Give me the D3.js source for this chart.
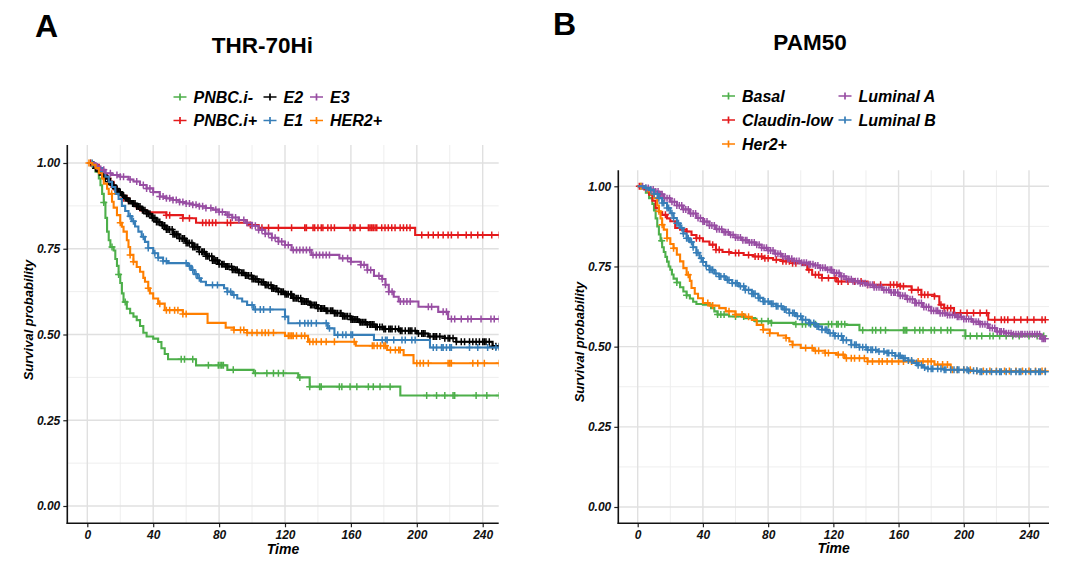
<!DOCTYPE html>
<html><head><meta charset="utf-8">
<script src="https://cdn.jsdelivr.net/npm/d3@7"></script>
<style>
body{margin:0;background:#fff}
svg{display:block}
text{font-family:"Liberation Sans",Arial,sans-serif}
</style>
</head><body>
<svg id="c" width="1079" height="573"></svg>
<script>
// ---------------- DATA ----------------
const xTicks = [0, 40, 80, 120, 160, 200, 240];
const xMinor = [20, 60, 100, 140, 180, 220];
const yTicks = [0, 0.25, 0.5, 0.75, 1];
const yMinor = [0.125, 0.375, 0.625, 0.875];
const yTickLabels = ["0.00", "0.25", "0.50", "0.75", "1.00"];

// Panel A : THR-70Hi
const A_names  = ["PNBC.i-", "PNBC.i+", "E2", "E1", "E3", "HER2+"];
const A_colors = ["#4DAF4A", "#E41A1C", "#000000", "#377EB8", "#984EA3", "#FF7F00"];

const A_pnbcMinus_t = [0,3,5,7,8,9,10,11,12,13,14,16,17,18,19,20,21,22,24,26,28,30,32,34,36,40,43,45,47,49,66,85,101,128,135,190];
const A_pnbcMinus_s = [1,0.99,0.975,0.955,0.935,0.91,0.885,0.84,0.80,0.775,0.755,0.745,0.72,0.70,0.675,0.65,0.62,0.595,0.575,0.562,0.552,0.542,0.525,0.505,0.494,0.488,0.478,0.46,0.443,0.428,0.41,0.397,0.387,0.375,0.348,0.322];
const A_pnbcMinus_c = [2,10,15,19,23,57,59,64,73.5,79.5,80.6,81.6,82.6,88.6,102,109,113,116,119,129,135,141,142,153,154.5,159.5,163.6,170.6,173.6,177.7,183.8,206,212,217,222,223,236,242.5,250];

const A_pnbcPlus_t = [0,4,7,10,12,14,16,18,20,22,25,28,30,32,36,48,58,66,98,104,199];
const A_pnbcPlus_s = [1,0.995,0.98,0.965,0.955,0.945,0.93,0.916,0.907,0.897,0.887,0.877,0.868,0.862,0.856,0.848,0.839,0.826,0.819,0.811,0.79];
const A_pnbcPlus_c = [2,16,22,24,48,50,58,62,70,72,74,76,78,85,87,97,99,106,110,116,124,132,133,137,138,140,142,143,146,148,150,159.5,161.5,162.5,165.6,170.6,171.6,172.6,173.6,174.7,175.7,178.7,180.7,182.7,184.8,186.8,189.9,191.9,193.9,195.9,203,207,210,213,216,219,221,225,230,233,237,240,245.5,250];

const A_E2_t = [0,3,5,7,9,11,13,15,17,19,21,23,25,27,30,33,36,39,42,45,48,52,56,60,64,68,72,76,80,84,88,92,96,100,104,108,112,116,120,125,130,135,140,145,150,155,160,165,170,175,180,190,200,207,217,224,246];
const A_E2_s = [1,0.995,0.985,0.975,0.965,0.955,0.945,0.935,0.925,0.915,0.905,0.897,0.889,0.882,0.873,0.862,0.852,0.84,0.828,0.818,0.806,0.792,0.78,0.767,0.755,0.741,0.728,0.716,0.705,0.698,0.689,0.68,0.672,0.662,0.653,0.644,0.634,0.625,0.617,0.606,0.596,0.586,0.576,0.569,0.562,0.553,0.544,0.536,0.529,0.522,0.516,0.511,0.503,0.494,0.489,0.479,0.466];
const A_E2_c = [4,5,6,7.5,8.5,9,10,11,12.5,13,14,15.5,16,17,18,19,20,21.5,22,23,24,25,26,27.5,28,29,30,31,32,33.5,34,35,36,37,38,39.5,40,41,42,43,44,45.5,46,47,48,49,50,51.5,52,53,54,55,56,57.5,58,59,60,61,62,63.5,64,65,66,67,68,69.5,70,71,72,73,74,75.5,76,77,78,79,80,81.5,82,83,84,85,86,87.5,88,89,90,91,92,93.5,94,95,96,97,98,99.5,100,101,102,103,104,105.5,106,107,108,109,110,111.5,112,113,114,115,116,117.5,118,119,120,121,122,123.5,124,125,126,127,128,129.5,130,131,132,133,134,135.5,136,137,138,139,140,141.5,142,143,144,145,146,147.5,148,149,150,151,152,153.5,154,155,156,157,158,159.5,160,161,162,163,164,165.5,166,167,168,169,170,171.5,172,173,174,175,176,177.5,179,180,181,183,184,185,187,189,190,191,193,195,196,197,199,201,203,204,205,208,210,211,212,214,217,219,220,222,224,227,229,232,234,236,238,240,241,242,244,246,248,250];

const A_E1_t = [0,4,6,9,11,13,15,17,19,21,23,25,27,29,31,33,35,37,40,43,46,49,61,63,65,67,69,72,83,85,88,91,94,97,101,120,122,146,150,174,208];
const A_E1_s = [1,0.995,0.985,0.975,0.96,0.945,0.93,0.91,0.895,0.875,0.86,0.845,0.83,0.815,0.80,0.785,0.77,0.752,0.737,0.724,0.714,0.708,0.70,0.688,0.676,0.664,0.654,0.644,0.635,0.625,0.615,0.605,0.596,0.586,0.573,0.552,0.533,0.518,0.499,0.484,0.462];
const A_E1_c = [3,9,26,28,34,37,41,43,46,48,60,62,64,66,68,76,79,85,87,89,100,102,105,107,111,120,129,132,134,136,139,145,147,152,155,157,160,161,179,181,182,186,191,193,197,199,210,212,215,216,218,220,221,232,237,243,248,250];

const A_E3_t = [0,5,8,11,15,20,25,28,32,36,40,44,48,52,56,60,64,68,72,76,80,84,88,92,96,100,104,108,112,116,120,124,136,153,160,166,170,174,179,181,183,186,189,201,213,219];
const A_E3_s = [1,0.99,0.98,0.97,0.965,0.96,0.952,0.946,0.936,0.926,0.915,0.902,0.897,0.892,0.886,0.882,0.878,0.874,0.869,0.864,0.857,0.849,0.841,0.834,0.826,0.817,0.805,0.794,0.782,0.771,0.761,0.746,0.732,0.722,0.712,0.703,0.688,0.671,0.662,0.645,0.625,0.61,0.596,0.581,0.566,0.545];
const A_E3_c = [6,10,14,18,20,22,26,30,34,36,38,40,44,46,48,50,52,54,56,58,60,62,64,66,68,70,72,75,78,80,82,85,86,88,90,92,95,97,100,102,104,106,108,110,112,114,116,118,120,122,125,127,129,131,133,135,137,139,141,143,145,147,155,158,160,166,168,170,172,177,179,181,183,185,190,192,194,196,207,209,216,218,221,223,227,231,233,239,245,247,250];

const A_HER2_t = [0,3,5,7,9,10,12,13,15,16,18,20,21,22,24,25,26,28,30,32,34,35,37,38,40,43,47,58,73,84,89,97,120,134,163,182,192,198];
const A_HER2_s = [1,0.995,0.985,0.97,0.955,0.94,0.925,0.91,0.887,0.87,0.848,0.826,0.814,0.80,0.775,0.755,0.732,0.712,0.697,0.683,0.665,0.654,0.635,0.62,0.605,0.59,0.571,0.56,0.534,0.52,0.513,0.505,0.496,0.479,0.467,0.455,0.44,0.416];
const A_HER2_c = [1,14.8,20,26,28,37,44,48,50,53,55,58,60,89,93,95,97,100,103,106,108,110,113,122,123,124,125,127,130,132,135,137,139,142,145,150,162,173,174,176,178,180,181,184,187,189,190,200,202,204,207,219,220,221,234,237,241,250];

// Panel B : PAM50
const B_names  = ["Basal", "Claudin-low", "Her2+", "Luminal A", "Luminal B"];
const B_colors = ["#4DAF4A", "#E41A1C", "#FF7F00", "#984EA3", "#377EB8"];

const B_basal_t = [0,3,5,7,9,10,11,12,13,14,15,16,17,18,19,20,21,22,24,26,28,30,32,34,36,40,45,47,49,56,66,72,82,96,128,136,201];
const B_basal_s = [1,0.994,0.98,0.963,0.945,0.925,0.90,0.875,0.85,0.83,0.81,0.795,0.78,0.765,0.75,0.74,0.725,0.712,0.70,0.685,0.672,0.66,0.65,0.64,0.633,0.631,0.62,0.61,0.6,0.594,0.589,0.579,0.574,0.57,0.568,0.551,0.533];
const B_basal_c = [2,14.7,24,30,49,51,53,60,65,73,76,80,82,97,101,103,106,109,117,119,122,123,125,127,138,144,146,149,152,163,164,165,170,173,175,180,182,186,190,192,201,204,208,211,216,218,222,226,230,234,240,245,249];

const B_claudin_t = [0,4,7,9,11,13,15,18,20,23,26,30,33,36,40,44,48,52,57,65,71,77,83,89,95,101,104,107,113,122,141,161,168,174,182,185,188,194,215];
const B_claudin_s = [1,0.99,0.974,0.955,0.932,0.92,0.911,0.9,0.891,0.87,0.865,0.859,0.848,0.838,0.828,0.818,0.802,0.795,0.792,0.786,0.781,0.776,0.771,0.766,0.76,0.755,0.74,0.724,0.714,0.703,0.693,0.688,0.677,0.662,0.657,0.631,0.62,0.605,0.584];
const B_claudin_c = [1,17,30,36,38,46,48,50,56,60,62,68,72,74,76,78,80,85,89,91,93,95,97,105,109,111,113,117,121,123,125,129,133,137,141,145,149,155,157,159,161,163,168,172,174,176,178,182,186,188,190,192,198,202,206,210,214,219,223,225,227,231,235,239,243,248,250];

const B_her2_t = [0,4,6,8,10,12,13,14,15,16,18,20,22,24,26,28,30,32,33,35,37,40,44,50,54,60,66,70,73,77,81,86,91,93,95,100,108,115,122,127,141,182,192,205];
const B_her2_s = [1,0.995,0.985,0.975,0.963,0.94,0.922,0.9,0.88,0.865,0.838,0.82,0.807,0.787,0.766,0.745,0.724,0.705,0.683,0.665,0.651,0.636,0.628,0.62,0.61,0.6,0.593,0.583,0.568,0.553,0.542,0.535,0.527,0.516,0.506,0.496,0.487,0.48,0.475,0.464,0.454,0.444,0.428,0.424];
const B_her2_c = [2,13,15,18,22,31,43,46,56,60,64,68,77,81,91,95,103,107,109,111,115,117,123,126,128,131,133,136,139,141,144,148,150,153,156,160,163,168,172,175,178,180,184,187,190,193,196,200,204,208,212,216,220,225,228,232,236,240,244,248,250];

const B_lumA_t = [0,4,7,10,13,16,20,24,28,32,36,40,44,48,52,56,60,64,68,72,76,80,84,88,92,96,100,104,108,112,116,120,124,128,132,136,140,145,150,155,160,165,170,175,180,185,190,195,200,205,210,215,220,225,230,247];
const B_lumA_s = [1,0.995,0.99,0.984,0.975,0.963,0.952,0.94,0.928,0.915,0.901,0.89,0.878,0.866,0.857,0.849,0.84,0.832,0.825,0.818,0.808,0.8,0.79,0.781,0.774,0.767,0.762,0.757,0.753,0.746,0.74,0.73,0.719,0.71,0.704,0.698,0.693,0.685,0.677,0.669,0.659,0.648,0.636,0.624,0.612,0.604,0.599,0.593,0.586,0.578,0.57,0.558,0.547,0.542,0.539,0.525];
const B_lumA_c = [3,5,6.5,8,9.5,11,12.5,14,15,16.5,18,19.5,21,22.5,24,25.5,27,28,29.5,31,32.5,34,35.5,37,38.5,40,41,42.5,44,45.5,47,48.5,50,51.5,53,54,55.5,57,58.5,60,61.5,63,64.5,66,67,68.5,70,71.5,73,74.5,76,77.5,79,80,81.5,83,84.5,86,87.5,89,90.5,92,93,94.5,96,97.5,99,100.5,102,103.5,105,106,107.5,109,110.5,112,113.5,115,116.5,118,119,120.5,122,123.5,125,126.5,128,129.5,131,132,133.5,135,136.5,138,139.5,141,142.5,144,145,146.5,148,149.5,151,152.5,154,155.5,157,158,159.5,161,162.5,164,165.5,167,168.5,170,171,172.5,174,175.5,177,178.5,180,181.5,183,184,185.5,187,188.5,190,191.5,193,194.5,196,197,198.5,200,201.5,203,204.5,206,207.5,209,210,211.5,213,214.5,216,217.5,219,220.5,222,223,224.5,226,227.5,229,230.5,232,233.5,235,236,237.5,239,240.5,242,243.5,245,246.5,248,249,250];

const B_lumB_t = [0,4,7,10,13,15,18,20,22,24,26,28,30,32,34,36,38,40,42,44,47,50,54,58,62,66,70,74,77,81,85,89,93,97,101,105,109,113,117,121,126,131,136,141,147,153,158,162,166,169,172,175,178,188,203,209];
const B_lumB_s = [1,0.995,0.989,0.976,0.963,0.948,0.932,0.916,0.901,0.885,0.87,0.853,0.838,0.826,0.81,0.793,0.776,0.764,0.752,0.74,0.728,0.719,0.708,0.698,0.688,0.677,0.665,0.652,0.641,0.634,0.626,0.616,0.605,0.595,0.584,0.574,0.563,0.553,0.542,0.533,0.52,0.506,0.498,0.49,0.485,0.48,0.472,0.464,0.457,0.449,0.442,0.435,0.431,0.428,0.425,0.422];
const B_lumB_c = [5,8,10,12,13,15,16,18,19,21,22,24,25,27,28,30,31,33,34,36,37,39,40,42,44,45,46,48,50,51,53,55,56,58,60,61,63,65,66,68,70,71,72,74,75,77,78,80,82,83,85,86,88,90,91,93,95,96,98,100,101,103,105,106,108,110,111,113,115,116,118,120,121,123,125,126,128,131,133,134,136,138,140,141,143,144,146,148,151,153,154,156,158,160,161,163,164,166,168,171,172,174,176,178,180,181,184,186,188,189,192,194,196,197,200,202,203,206,208,210,211,214,217,220,222,223,226,229,232,234,235,238,241,244,246,247,250];

// ---------------- DRAWING ----------------
const svg = d3.select("#c");
const FONT = '"Liberation Sans", Arial, sans-serif';

function makeSeries(names, colors, arrs) {
  return names.map((n, i) => ({name: n, color: colors[i], t: arrs[i][0], s: arrs[i][1], c: arrs[i][2]}));
}
const seriesA = makeSeries(A_names, A_colors, [
  [A_pnbcMinus_t, A_pnbcMinus_s, A_pnbcMinus_c],
  [A_pnbcPlus_t, A_pnbcPlus_s, A_pnbcPlus_c],
  [A_E2_t, A_E2_s, A_E2_c],
  [A_E1_t, A_E1_s, A_E1_c],
  [A_E3_t, A_E3_s, A_E3_c],
  [A_HER2_t, A_HER2_s, A_HER2_c]]);
const seriesB = makeSeries(B_names, B_colors, [
  [B_basal_t, B_basal_s, B_basal_c],
  [B_claudin_t, B_claudin_s, B_claudin_c],
  [B_her2_t, B_her2_s, B_her2_c],
  [B_lumA_t, B_lumA_s, B_lumA_c],
  [B_lumB_t, B_lumB_s, B_lumB_c]]);

function drawPanel(cfg) {
  const g = svg.append("g");
  const x = d3.scaleLinear().domain([0, 240]).range([cfg.x0, cfg.x240]);
  const y = d3.scaleLinear().domain([0, 1]).range([cfg.y0, cfg.y1]);
  const L = cfg.left, R = cfg.right, T = cfg.top, B = cfg.bottom;

  // grid
  g.selectAll(".mx").data(xMinor).join("line")
    .attr("x1", d => x(d)).attr("x2", d => x(d)).attr("y1", T).attr("y2", B)
    .attr("stroke", "#eeeeee").attr("stroke-width", 1);
  g.selectAll(".my").data(yMinor).join("line")
    .attr("y1", d => y(d)).attr("y2", d => y(d)).attr("x1", L).attr("x2", R)
    .attr("stroke", "#eeeeee").attr("stroke-width", 1);
  g.selectAll(".gx").data(xTicks).join("line")
    .attr("x1", d => x(d)).attr("x2", d => x(d)).attr("y1", T).attr("y2", B)
    .attr("stroke", "#e0e0e0").attr("stroke-width", 1.4);
  g.selectAll(".gy").data(yTicks).join("line")
    .attr("y1", d => y(d)).attr("y2", d => y(d)).attr("x1", L).attr("x2", R)
    .attr("stroke", "#e0e0e0").attr("stroke-width", 1.4);

  // clip
  const cid = "clip" + cfg.id;
  svg.append("clipPath").attr("id", cid).append("rect")
    .attr("x", L).attr("y", T - 6).attr("width", R - L).attr("height", B - T + 6);
  const pg = g.append("g").attr("clip-path", `url(#${cid})`);

  const line = d3.line().curve(d3.curveStepAfter).x(d => x(d[0])).y(d => y(d[1]));
  cfg.series.forEach(s => {
    const n = Math.min(s.t.length, s.s.length);
    const pts = [];
    for (let i = 0; i < n; i++) pts.push([s.t[i], s.s[i]]);
    const tEnd = Math.max(s.t[n - 1], d3.max(s.c));
    pts.push([tEnd, s.s[n - 1]]);
    pg.append("path").attr("d", line(pts)).attr("fill", "none")
      .attr("stroke", s.color).attr("stroke-width", 2.1);
    const survAt = t => s.s[Math.max(0, d3.bisectRight(s.t.slice(0, n), t) - 1)];
    pg.append("path")
      .attr("d", s.c.map(t => { const px = x(t), py = y(survAt(t));
        return `M${px - 3.5},${py}h7M${px},${py - 3.5}v7`; }).join(""))
      .attr("stroke", s.color).attr("stroke-width", 1.5).attr("fill", "none");
  });

  // axes
  const ax = g.append("g").attr("transform", `translate(0,${B})`)
    .call(d3.axisBottom(x).tickValues(xTicks).tickSize(4).tickPadding(3));
  ax.select(".domain").remove();
  const ay = g.append("g").attr("transform", `translate(${L},0)`)
    .call(d3.axisLeft(y).tickValues(yTicks).tickSize(4).tickPadding(3)
      .tickFormat((d, i) => yTickLabels[i]));
  ay.select(".domain").remove();
  [ax, ay].forEach(a => {
    a.selectAll("line").attr("stroke", "#222").attr("stroke-width", 1.2);
    a.selectAll("text").attr("font-family", FONT).attr("font-size", 12)
      .attr("font-weight", "bold").attr("font-style", "italic").attr("fill", "#111");
  });
  g.append("line").attr("x1", L).attr("x2", L).attr("y1", T).attr("y2", B + 0.7)
    .attr("stroke", "#111").attr("stroke-width", 1.6);
  g.append("line").attr("x1", L - 0.7).attr("x2", R).attr("y1", B).attr("y2", B)
    .attr("stroke", "#111").attr("stroke-width", 1.6);

  // axis titles
  g.append("text").attr("x", (L + R) / 2).attr("y", cfg.xTitleY).attr("text-anchor", "middle")
    .attr("font-size", 14).attr("font-weight", "bold").attr("font-style", "italic").text("Time");
  g.append("text").attr("transform", `translate(${cfg.yTitleX},${cfg.yTitleY}) rotate(-90)`)
    .attr("text-anchor", "middle").attr("dominant-baseline", "central")
    .attr("font-size", 13).attr("font-weight", "bold").attr("font-style", "italic")
    .text("Survival probability");

  // titles
  g.append("text").attr("x", cfg.letterX).attr("y", cfg.letterY).attr("font-size", 32)
    .attr("font-weight", "bold").text(cfg.letter);
  g.append("text").attr("x", cfg.titleX).attr("y", cfg.titleY).attr("text-anchor", "middle")
    .attr("font-size", 22.5).attr("font-weight", "bold").text(cfg.title);

  // legend
  cfg.series.forEach((s, i) => {
    const pos = cfg.legendPos[i];
    const lg = g.append("g");
    lg.append("path").attr("d", `M${pos[0] - 6.5},${pos[1]}h13M${pos[0]},${pos[1] - 3.5}v7`)
      .attr("stroke", s.color).attr("stroke-width", 1.7);
    lg.append("text").attr("x", pos[0] + 13.5).attr("y", pos[1]).attr("dominant-baseline", "central")
      .attr("font-size", 16).attr("font-weight", "bold").attr("font-style", "italic").text(s.name);
  });
}

drawPanel({
  id: "A", series: seriesA,
  x0: 87.3, x240: 482.7, y0: 506, y1: 163,
  left: 67.3, right: 498.7, top: 145, bottom: 523.3,
  xTitleY: 554, yTitleX: 28, yTitleY: 320,
  letter: "A", letterX: 35, letterY: 37,
  title: "THR-70Hi", titleX: 262.5, titleY: 53,
  legendPos: [[180, 97], [180, 120.5], [270, 97], [270, 120.5], [316.5, 97], [316.5, 120.5]]
});
drawPanel({
  id: "B", series: seriesB,
  x0: 637.7, x240: 1029, y0: 507, y1: 186.3,
  left: 618.3, right: 1049, top: 170.3, bottom: 523.3,
  xTitleY: 553, yTitleX: 579, yTitleY: 342,
  letter: "B", letterX: 553, letterY: 35,
  title: "PAM50", titleX: 810, titleY: 49.5,
  legendPos: [[728.5, 96], [728.5, 120], [728.5, 144], [845, 96], [845, 120]]
});
</script>
</body></html>
